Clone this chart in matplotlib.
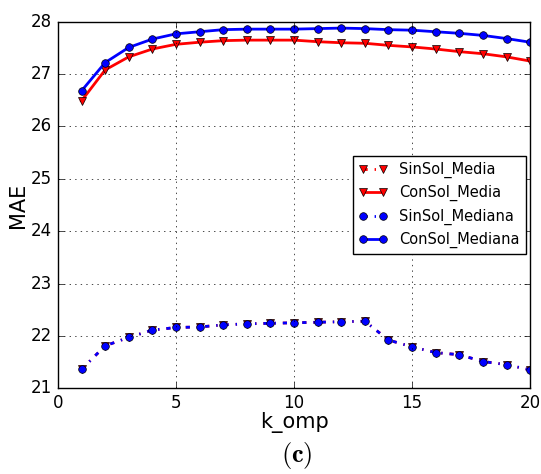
import matplotlib
matplotlib.use("Agg")
import matplotlib.pyplot as plt

plt.style.use('classic')
plt.rcParams['mathtext.fontset'] = 'cm'
plt.rcParams['font.family'] = ['DejaVu Sans']

k = list(range(1, 21))
sinsol_media = [21.36, 21.81, 21.97, 22.11, 22.16, 22.17, 22.21, 22.23, 22.24, 22.25,
                22.26, 22.27, 22.28, 21.92, 21.79, 21.68, 21.64, 21.51, 21.45, 21.35]
consol_media = [26.49, 27.08, 27.33, 27.48, 27.57, 27.61, 27.64, 27.65, 27.65, 27.65,
                27.62, 27.60, 27.59, 27.55, 27.52, 27.48, 27.43, 27.39, 27.33, 27.25]
sinsol_mediana = [21.36, 21.81, 21.97, 22.11, 22.16, 22.17, 22.21, 22.23, 22.24, 22.25,
                  22.26, 22.27, 22.28, 21.92, 21.79, 21.68, 21.64, 21.51, 21.45, 21.35]
consol_mediana = [26.68, 27.22, 27.51, 27.67, 27.77, 27.81, 27.85, 27.86, 27.86, 27.86,
                  27.87, 27.88, 27.87, 27.85, 27.84, 27.81, 27.78, 27.74, 27.68, 27.61]

fig = plt.figure(figsize=(5.41, 4.74), dpi=100, facecolor='white')
ax = fig.add_axes([0.107, 0.181, 0.873, 0.773])

ms = 5.5
ax.plot(k, sinsol_media, color='red', linestyle='-.', linewidth=2, marker='v',
        markersize=ms, markeredgecolor='black', label='SinSol_Media')
ax.plot(k, consol_media, color='red', linestyle='-', linewidth=2, marker='v',
        markersize=ms, markeredgecolor='black', label='ConSol_Media')
ax.plot(k, sinsol_mediana, color='blue', linestyle='-.', linewidth=2, marker='o',
        markersize=ms, markeredgecolor='black', label='SinSol_Mediana')
ax.plot(k, consol_mediana, color='blue', linestyle='-', linewidth=2, marker='o',
        markersize=ms, markeredgecolor='black', label='ConSol_Mediana')

ax.set_xlim(0, 20)
ax.set_ylim(21, 28)
ax.set_xticks([0, 5, 10, 15, 20])
ax.set_yticks(range(21, 29))
ax.grid(True, linestyle=':', color='black')
ax.set_xlabel('k_omp', fontsize=15, labelpad=0)
ax.set_ylabel('MAE', fontsize=15, labelpad=2)
ax.tick_params(labelsize=12)
ax.legend(loc='center right', fontsize=10.5, numpoints=2, frameon=True,
          borderaxespad=0.3)

fig.text(0.548, 0.04, r'$\mathbf{(c)}$', fontsize=19, ha='center', va='center')

fig.savefig('out.png', dpi=100, facecolor='white')
